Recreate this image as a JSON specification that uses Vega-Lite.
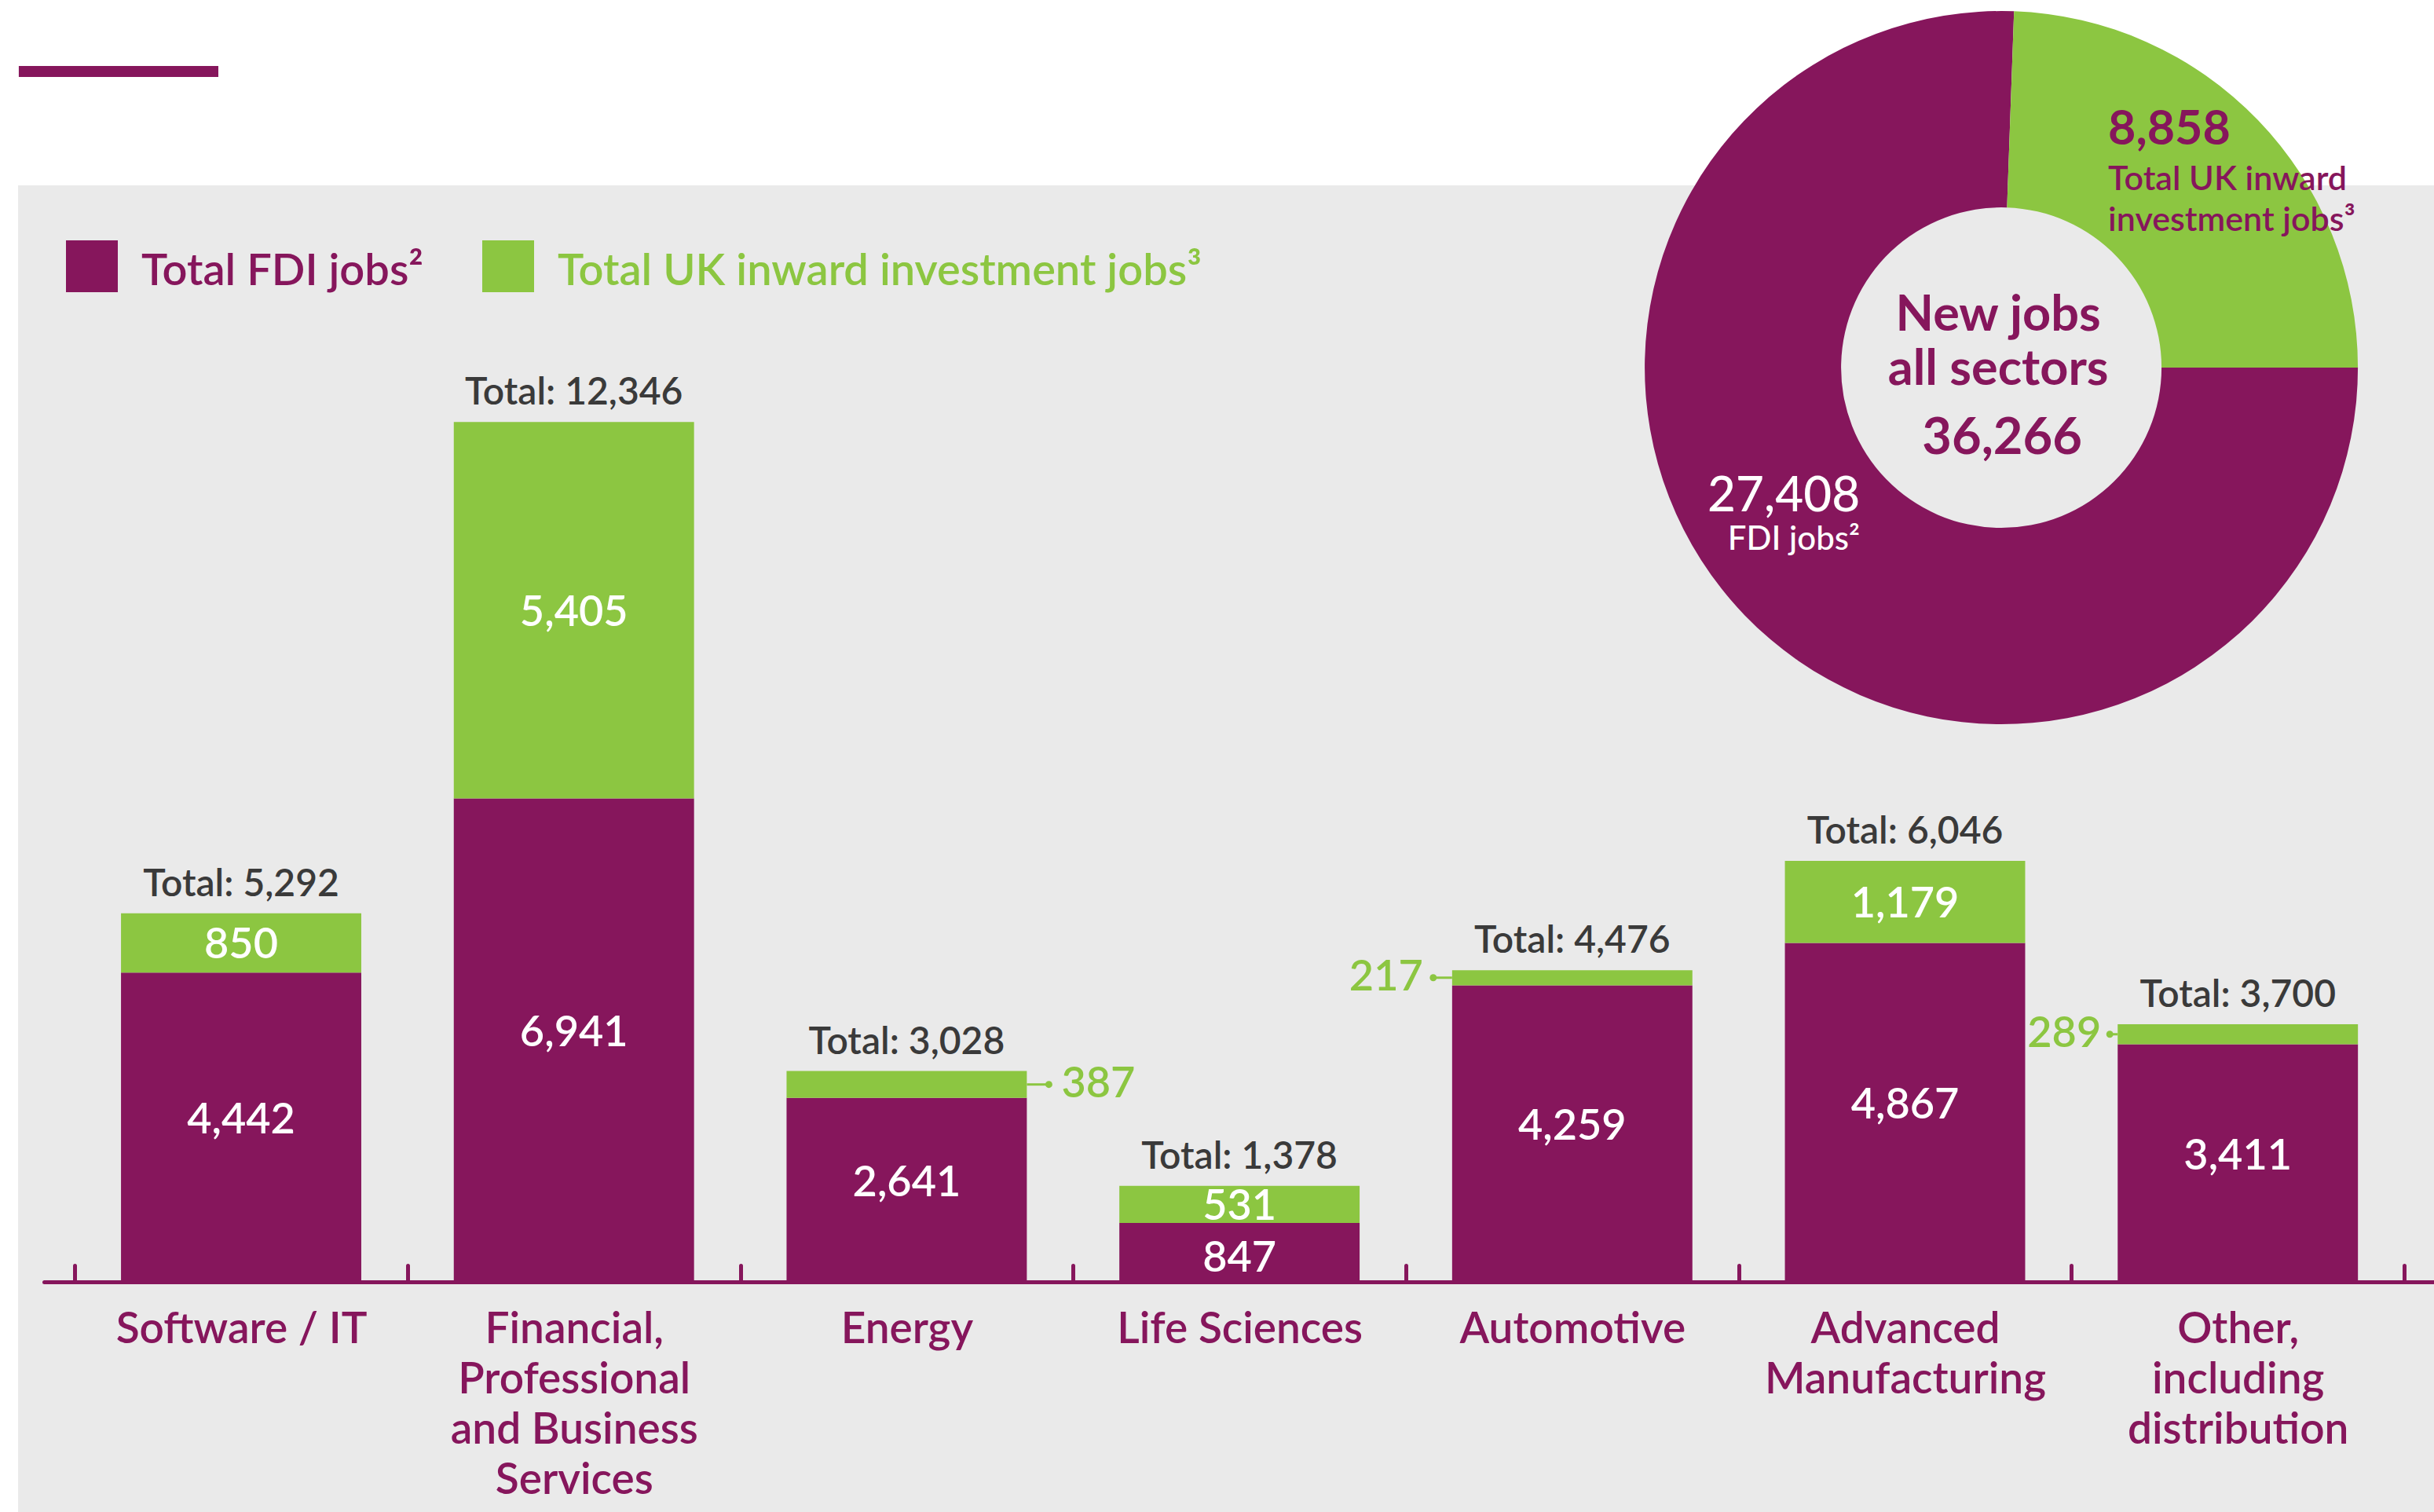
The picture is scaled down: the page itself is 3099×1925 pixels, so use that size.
{
  "$schema": "https://vega.github.io/schema/vega-lite/v6.json",
  "width": 3076,
  "height": 1689,
  "autosize": {"type": "none"},
  "padding": {"left": 23, "top": 236, "right": 0, "bottom": 0},
  "background": "#FFFFFF",
  "config": {
    "view": {"fill": "#EAEAEA", "stroke": null},
    "font": "Lato",
    "text": {"font": "Lato"}
  },
  "data": {
    "values": [
      {"sector": "Software / IT", "type": "Total FDI jobs²", "value": 4442},
      {"sector": "Software / IT", "type": "Total UK inward investment jobs³", "value": 850},
      {"sector": "Financial, Professional and Business Services", "type": "Total FDI jobs²", "value": 6941},
      {"sector": "Financial, Professional and Business Services", "type": "Total UK inward investment jobs³", "value": 5405},
      {"sector": "Energy", "type": "Total FDI jobs²", "value": 2641},
      {"sector": "Energy", "type": "Total UK inward investment jobs³", "value": 387},
      {"sector": "Life Sciences", "type": "Total FDI jobs²", "value": 847},
      {"sector": "Life Sciences", "type": "Total UK inward investment jobs³", "value": 531},
      {"sector": "Automotive", "type": "Total FDI jobs²", "value": 4259},
      {"sector": "Automotive", "type": "Total UK inward investment jobs³", "value": 217},
      {"sector": "Advanced Manufacturing", "type": "Total FDI jobs²", "value": 4867},
      {"sector": "Advanced Manufacturing", "type": "Total UK inward investment jobs³", "value": 1179},
      {"sector": "Other, including distribution", "type": "Total FDI jobs²", "value": 3411},
      {"sector": "Other, including distribution", "type": "Total UK inward investment jobs³", "value": 289}
    ]
  },
  "layer": [
    {
      "transform": [
        {"stack": "value", "groupby": ["sector"], "sort": [{"field": "type", "order": "ascending"}], "as": ["v0", "v1"]},
        {"calculate": "(datum.v0 + datum.v1) / 2", "as": "mid"}
      ],
      "encoding": {
        "x": {
          "field": "sector",
          "type": "nominal",
          "sort": ["Software / IT", "Financial, Professional and Business Services", "Energy", "Life Sciences", "Automotive", "Advanced Manufacturing", "Other, including distribution"],
          "scale": {"range": [33, 3076], "paddingInner": 0, "paddingOuter": 0.091, "align": 0.508},
          "axis": {
            "title": null,
            "orient": "bottom",
            "offset": -293,
            "zindex": 1,
            "domainColor": "#86165C",
            "domainWidth": 5,
            "domainCap": "round",
            "tickColor": "#86165C",
            "tickWidth": 5,
            "tickSize": -21,
            "tickCap": "round",
            "tickBand": "extent",
            "labelColor": "#86165C",
            "labelFont": "Lato",
            "labelFontSize": 55,
            "labelFontWeight": 600,
            "labelLineHeight": 64,
            "labelBaseline": "alphabetic",
            "labelPadding": 98,
            "labelAngle": 0,
            "labelLimit": 1000,
            "labelOverlap": false,
            "labelExpr": "datum.value == 'Financial, Professional and Business Services' ? ['Financial,', 'Professional', 'and Business', 'Services'] : datum.value == 'Advanced Manufacturing' ? ['Advanced', 'Manufacturing'] : datum.value == 'Other, including distribution' ? ['Other,', 'including', 'distribution'] : datum.value"
          }
        }
      },
      "layer": [
        {
          "mark": {"type": "bar", "width": {"band": 0.722}},
          "encoding": {
            "y": {"field": "v1", "type": "quantitative", "scale": {"domain": [-3304, 15744], "nice": false, "zero": false}, "axis": null},
            "y2": {"field": "v0"},
            "color": {
              "field": "type",
              "type": "nominal",
              "scale": {"domain": ["Total FDI jobs²", "Total UK inward investment jobs³"], "range": ["#86165C", "#8CC641"]},
              "legend": {
                "orient": "none",
                "legendX": 61,
                "legendY": 70,
                "direction": "horizontal",
                "title": null,
                "symbolType": "square",
                "symbolSize": 4356,
                "symbolStrokeWidth": 0,
                "symbolOpacity": 1,
                "labelFont": "Lato",
                "labelFontSize": 56,
                "labelFontWeight": 600,
                "labelOffset": 30,
                "columnPadding": 74,
                "padding": 0,
                "labelLimit": 2000,
                "encode": {"labels": {"update": {"dy": {"value": 7}, "fill": {"signal": "datum.value === 'Total FDI jobs²' ? '#86165C' : '#8CC641'"}}}}
              }
            }
          }
        },
        {
          "transform": [{"filter": "datum.value >= 1000 && datum.type == 'Total FDI jobs²'"}],
          "mark": {"type": "text", "color": "#FFFFFF", "fontSize": 54, "fontWeight": 600, "baseline": "middle", "align": "center", "dy": -8},
          "encoding": {
            "y": {"field": "mid", "type": "quantitative", "scale": {"domain": [-3304, 15744], "nice": false, "zero": false}, "axis": null},
            "text": {"field": "value", "type": "quantitative", "format": ","}
          }
        },
        {
          "transform": [{"filter": "datum.value >= 500 && datum.value < 1000 && datum.type == 'Total FDI jobs²'"}],
          "mark": {"type": "text", "color": "#FFFFFF", "fontSize": 54, "fontWeight": 600, "baseline": "middle", "align": "center", "dy": 9},
          "encoding": {
            "y": {"field": "mid", "type": "quantitative", "scale": {"domain": [-3304, 15744], "nice": false, "zero": false}, "axis": null},
            "text": {"field": "value", "type": "quantitative", "format": ","}
          }
        },
        {
          "transform": [{"filter": "datum.value >= 500 && datum.type == 'Total UK inward investment jobs³'"}],
          "mark": {"type": "text", "color": "#FFFFFF", "fontSize": 54, "fontWeight": 600, "baseline": "middle", "align": "center", "dy": 4},
          "encoding": {
            "y": {"field": "mid", "type": "quantitative", "scale": {"domain": [-3304, 15744], "nice": false, "zero": false}, "axis": null},
            "text": {"field": "value", "type": "quantitative", "format": ","}
          }
        },
        {
          "transform": [{"filter": "datum.value < 500 && datum.sector == 'Energy'"}],
          "encoding": {"y": {"field": "mid", "type": "quantitative", "scale": {"domain": [-3304, 15744], "nice": false, "zero": false}, "axis": null}},
          "layer": [
            {"mark": {"type": "text", "color": "#8CC641", "fontSize": 54, "fontWeight": 600, "baseline": "middle", "align": "left", "dx": 197}, "encoding": {"text": {"field": "value", "type": "quantitative", "format": ","}}},
            {"mark": {"type": "tick", "orient": "horizontal", "color": "#8CC641", "size": 28, "thickness": 3, "xOffset": 167, "opacity": 1}},
            {"mark": {"type": "circle", "color": "#8CC641", "size": 80, "opacity": 1, "xOffset": 181}}
          ]
        },
        {
          "transform": [{"filter": "datum.value < 500 && datum.sector == 'Automotive'"}],
          "encoding": {"y": {"field": "mid", "type": "quantitative", "scale": {"domain": [-3304, 15744], "nice": false, "zero": false}, "axis": null}},
          "layer": [
            {"mark": {"type": "text", "color": "#8CC641", "fontSize": 54, "fontWeight": 600, "baseline": "middle", "align": "right", "dx": -190}, "encoding": {"text": {"field": "value", "type": "quantitative", "format": ","}}},
            {"mark": {"type": "tick", "orient": "horizontal", "color": "#8CC641", "size": 24, "thickness": 3, "xOffset": -165, "opacity": 1}},
            {"mark": {"type": "circle", "color": "#8CC641", "size": 80, "opacity": 1, "xOffset": -177}}
          ]
        },
        {
          "transform": [{"filter": "datum.value < 500 && datum.sector == 'Other, including distribution'"}],
          "encoding": {"y": {"field": "mid", "type": "quantitative", "scale": {"domain": [-3304, 15744], "nice": false, "zero": false}, "axis": null}},
          "layer": [
            {"mark": {"type": "text", "color": "#8CC641", "fontSize": 54, "fontWeight": 600, "baseline": "middle", "align": "right", "dx": -174}, "encoding": {"text": {"field": "value", "type": "quantitative", "format": ","}}},
            {"mark": {"type": "tick", "orient": "horizontal", "color": "#8CC641", "size": 10, "thickness": 3, "xOffset": -158, "opacity": 1}},
            {"mark": {"type": "circle", "color": "#8CC641", "size": 80, "opacity": 1, "xOffset": -163}}
          ]
        },
        {
          "transform": [
            {"aggregate": [{"op": "sum", "field": "value", "as": "total"}], "groupby": ["sector"]},
            {"calculate": "'Total: ' + format(datum.total, ',')", "as": "totalLabel"}
          ],
          "mark": {"type": "text", "color": "#3A3A3A", "fontSize": 48, "fontWeight": 600, "baseline": "alphabetic", "align": "center", "dy": -22},
          "encoding": {
            "y": {"field": "total", "type": "quantitative", "scale": {"domain": [-3304, 15744], "nice": false, "zero": false}, "axis": null},
            "text": {"field": "totalLabel", "type": "nominal"}
          }
        }
      ]
    },
    {
      "encoding": {
        "x": {"datum": 0.8209, "type": "quantitative", "scale": {"domain": [0, 1], "nice": false, "zero": false}, "axis": null},
        "y": {"datum": 0.8626, "type": "quantitative", "scale": {"domain": [0, 1], "nice": false, "zero": false}, "axis": null}
      },
      "layer": [
        {
          "transform": [{"aggregate": [{"op": "sum", "field": "value", "as": "jobs"}], "groupby": ["type"]}],
          "layer": [
            {
              "mark": {"type": "arc", "radius": 454, "radius2": 204},
              "encoding": {
                "theta": {"field": "jobs", "type": "quantitative", "stack": true, "scale": {"range": [0.0357, 6.3189]}},
                "color": {"field": "type", "type": "nominal"},
                "order": {"field": "type", "sort": "descending"}
              }
            },
            {
              "transform": [{"filter": "datum.type == 'Total UK inward investment jobs³'"}],
              "mark": {"type": "text", "color": "#86165C", "fontSize": 61, "fontWeight": "bold", "align": "left", "baseline": "alphabetic", "dx": 136, "dy": -284},
              "encoding": {"text": {"field": "jobs", "type": "quantitative", "format": ","}}
            },
            {
              "transform": [{"filter": "datum.type == 'Total UK inward investment jobs³'"}],
              "mark": {"type": "text", "text": ["Total UK inward", "investment jobs³"], "color": "#86165C", "fontSize": 43, "fontWeight": 600, "align": "left", "baseline": "alphabetic", "lineHeight": 52, "dx": 136, "dy": -226}
            },
            {
              "transform": [{"filter": "datum.type == 'Total FDI jobs²'"}],
              "mark": {"type": "text", "color": "#FFFFFF", "fontSize": 62, "fontWeight": 500, "align": "right", "baseline": "alphabetic", "dx": -180, "dy": 183},
              "encoding": {"text": {"field": "jobs", "type": "quantitative", "format": ","}}
            },
            {
              "transform": [{"filter": "datum.type == 'Total FDI jobs²'"}],
              "mark": {"type": "text", "text": "FDI jobs²", "color": "#FFFFFF", "fontSize": 42, "fontWeight": 500, "align": "right", "baseline": "alphabetic", "dx": -180, "dy": 232}
            },
            {
              "transform": [{"filter": "datum.type == 'Total FDI jobs²'"}],
              "mark": {"type": "text", "text": ["New jobs", "all sectors"], "color": "#86165C", "fontSize": 63, "fontWeight": "bold", "align": "center", "baseline": "alphabetic", "lineHeight": 69, "dx": -4, "dy": -47}
            },
            {
              "transform": [{"aggregate": [{"op": "sum", "field": "jobs", "as": "all"}]}],
              "mark": {"type": "text", "color": "#86165C", "fontSize": 65, "fontWeight": "bold", "align": "center", "baseline": "alphabetic", "dx": 1, "dy": 110},
              "encoding": {"text": {"field": "all", "type": "quantitative", "format": ","}}
            }
          ]
        },
        {
          "data": {"values": [{"decoration": "rule"}]},
          "mark": {"type": "rule", "color": "#86165C", "strokeWidth": 14, "strokeCap": "butt"},
          "encoding": {
            "x": {"datum": 0.0003, "type": "quantitative", "scale": {"domain": [0, 1], "nice": false, "zero": false}, "axis": null},
            "x2": {"datum": 0.0829},
            "y": {"datum": 1.0858, "type": "quantitative", "scale": {"domain": [0, 1], "nice": false, "zero": false}, "axis": null}
          }
        },
        {
          "data": {"values": [{"decoration": "circle"}]},
          "mark": {"type": "circle", "color": "#8CC641", "size": 11310, "opacity": 1},
          "encoding": {
            "x": {"datum": 0.1268, "type": "quantitative", "scale": {"domain": [0, 1], "nice": false, "zero": false}, "axis": null},
            "y": {"datum": 1.1723, "type": "quantitative", "scale": {"domain": [0, 1], "nice": false, "zero": false}, "axis": null}
          }
        }
      ]
    }
  ],
  "resolve": {"scale": {"x": "independent", "y": "independent"}}
}
